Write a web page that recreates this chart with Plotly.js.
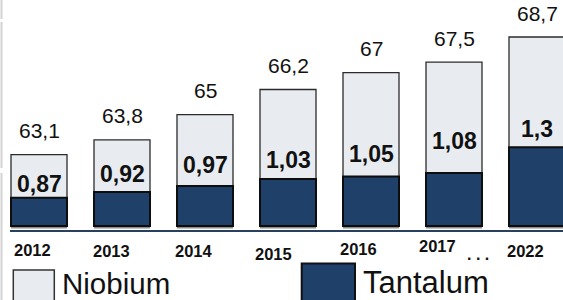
<!DOCTYPE html>
<html>
<head>
<meta charset="utf-8">
<script src="https://cdn.plot.ly/plotly-3.0.1.min.js"></script>
<style>html,body{margin:0;padding:0;background:#fff;}#chart{width:563px;height:300px;}</style>
</head>
<body>
<div id="chart"></div>
<script>
// ---- data ----
const years = ['2012', '2013', '2014', '2015', '2016', '2017', '2022'];
const niobium = [63.1, 63.8, 65, 66.2, 67, 67.5, 68.7];
const tantalum = [0.87, 0.92, 0.97, 1.03, 1.05, 1.08, 1.3];
const seriesNames = ['Niobium', 'Tantalum'];
const gapMarker = '. . .';

// ---- geometry / style ----
const W = 563, H = 300, ML = 10, MB = 70;
const PW = W - ML, PH = H - MB;
const BAR_BOTTOM_PX = 226;
const NB_BASE = 59.7, NB_PX = 21;      // broken (non-zero) scale of the totals
const TA_BASE = 0.63, TA_PX = 117.6;   // broken scale of the tantalum part
const FONT = 'Arial, "Liberation Sans", sans-serif';
const LIGHT = '#e8ecf1', DARK = '#1f4068';
const fmt = v => String(v).replace('.', ',');
const pxX = x => (x - ML) / PW;
const pxY = y => (PH - y) / PH;

const yRange = [NB_BASE - (PH - BAR_BOTTOM_PX) / NB_PX, NB_BASE + BAR_BOTTOM_PX / NB_PX];
const y2Range = [TA_BASE - (PH - BAR_BOTTOM_PX) / TA_PX, TA_BASE + BAR_BOTTOM_PX / TA_PX];
const slot = 83, firstCenter = 39, barW = 56 / slot;
const xRange = [(ML - firstCenter) / slot, (ML - firstCenter) / slot + PW / slot];

const traces = [
  { type: 'bar', x: years, y: years.map(() => 3 / NB_PX), base: NB_BASE - 2.6 / NB_PX,
    width: barW, marker: { color: '#8c8c8c', line: { width: 0 } },
    hoverinfo: 'skip', showlegend: false, yaxis: 'y' },
  { type: 'bar', name: seriesNames[0], x: years, y: niobium.map(v => v - NB_BASE), base: NB_BASE,
    width: barW, marker: { color: LIGHT, line: { color: '#2b2b2b', width: 1.3 } },
    showlegend: false, yaxis: 'y' },
  { type: 'bar', name: seriesNames[1], x: years, y: tantalum.map(v => v - TA_BASE), base: TA_BASE,
    width: barW, marker: { color: DARK, line: { color: '#0d0d0d', width: 2 } },
    showlegend: false, yaxis: 'y2' }
];

const taGap = [4.5, 9, 12.5, 10, 13.5, 23, 9];
const yearDx = [-6.6, -10.5, -10.8, -14.6, -12.2, -17, -12];
const yearBase = [256, 257, 257, 259.5, 254.5, 252, 257];
const tight = { borderpad: 0, borderwidth: 0, showarrow: false };

const annotations = [];
years.forEach((yr, i) => {
  annotations.push(Object.assign({ xref: 'x', yref: 'y', x: i, y: niobium[i], text: fmt(niobium[i]),
    yanchor: 'bottom', xanchor: 'center', yshift: 12.5,
    font: { family: FONT, size: 21, color: '#111' } }, tight));
  annotations.push(Object.assign({ xref: 'x', yref: 'y2', x: i, y: tantalum[i], text: '<b>' + fmt(tantalum[i]) + '</b>',
    yanchor: 'bottom', xanchor: 'center', yshift: taGap[i] - 4,
    font: { family: FONT, size: 23, color: '#111' } }, tight));
  annotations.push(Object.assign({ xref: 'x', yref: 'paper', x: i, y: pxY(yearBase[i] - 0.905 * 16.5),
    xshift: yearDx[i], text: '<b>' + yr + '</b>', yanchor: 'top', xanchor: 'center',
    font: { family: FONT, size: 16.5, color: '#111' } }, tight));
});
annotations.push(Object.assign({ xref: 'paper', yref: 'paper', x: pxX(478.5), y: pxY(260.5 - 0.905 * 16),
  text: '<b>' + gapMarker + '</b>', yanchor: 'top', xanchor: 'center',
  font: { family: FONT, size: 16, color: '#111' } }, tight));
annotations.push(Object.assign({ xref: 'paper', yref: 'paper', x: pxX(62), y: pxY(293.5 - 0.905 * 29.5),
  text: seriesNames[0], xanchor: 'left', yanchor: 'top',
  font: { family: FONT, size: 29.5, color: '#111' } }, tight));
annotations.push(Object.assign({ xref: 'paper', yref: 'paper', x: pxX(363), y: pxY(293 - 0.905 * 31),
  text: seriesNames[1], xanchor: 'left', yanchor: 'top',
  font: { family: FONT, size: 31, color: '#111' } }, tight));

const shapes = [
  { type: 'rect', xref: 'paper', yref: 'paper', x0: pxX(13.3), x1: pxX(54.3), y0: pxY(312), y1: pxY(270),
    fillcolor: LIGHT, line: { color: '#333', width: 1.5 } },
  { type: 'rect', xref: 'paper', yref: 'paper', x0: pxX(301.7), x1: pxX(355), y0: pxY(312), y1: pxY(263.5),
    fillcolor: DARK, line: { color: '#111', width: 2 } },
  { type: 'line', xref: 'paper', yref: 'paper', x0: pxX(1.5), x1: pxX(1.5), y0: pxY(0), y1: pxY(19),
    line: { color: '#d2d2d2', width: 2 } },
  { type: 'line', xref: 'paper', yref: 'paper', x0: pxX(1.5), x1: pxX(1.5), y0: pxY(22), y1: pxY(168),
    line: { color: '#d2d2d2', width: 2 } },
  { type: 'line', xref: 'paper', yref: 'paper', x0: pxX(1.5), x1: pxX(1.5), y0: pxY(173), y1: pxY(300),
    line: { color: '#d2d2d2', width: 2 } }
];

const layout = {
  width: W, height: H,
  margin: { l: ML, r: 0, t: 0, b: MB, pad: 0 },
  paper_bgcolor: '#fff', plot_bgcolor: '#fff',
  barmode: 'overlay',
  showlegend: false,
  font: { family: FONT, color: '#111' },
  xaxis: { type: 'category', range: xRange, showline: true, linecolor: '#26405e', linewidth: 2,
    ticks: '', showticklabels: false, showgrid: false, zeroline: false, fixedrange: true },
  yaxis: { range: yRange, showline: false, showticklabels: false, ticks: '', showgrid: false,
    zeroline: false, fixedrange: true },
  yaxis2: { range: y2Range, overlaying: 'y', showline: false, showticklabels: false, ticks: '',
    showgrid: false, zeroline: false, fixedrange: true },
  annotations: annotations,
  shapes: shapes
};

Plotly.newPlot('chart', traces, layout, { staticPlot: true, displayModeBar: false });
</script>
</body>
</html>
